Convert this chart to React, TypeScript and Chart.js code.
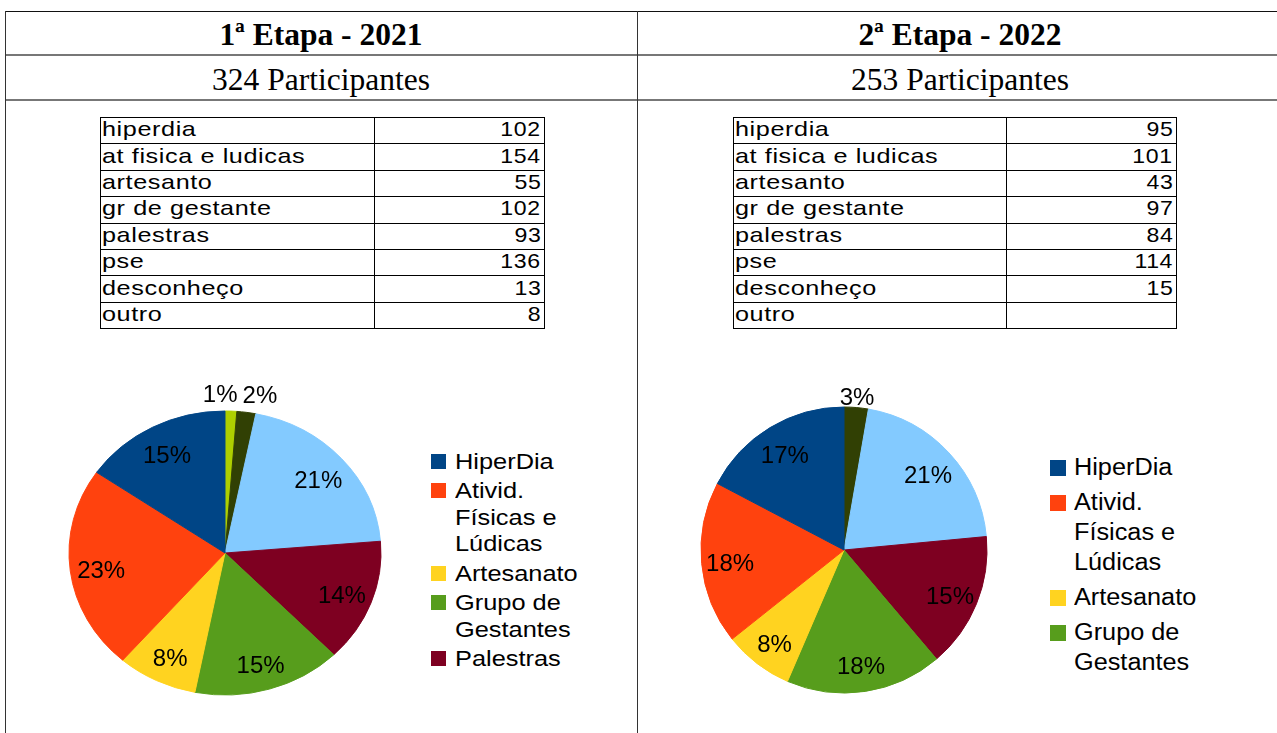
import React, { useEffect, useRef } from "react";
import { Chart, registerables } from "chart.js";

Chart.register(...registerables);

// ---------- data ----------
const stageTitles = ["1ª Etapa - 2021", "2ª Etapa - 2022"];
const participantTotals = [324, 253];
const tableCategories = [
  "hiperdia",
  "at fisica e ludicas",
  "artesanto",
  "gr de gestante",
  "palestras",
  "pse",
  "desconheço",
  "outro",
];
const values2021: (number | null)[] = [102, 154, 55, 102, 93, 136, 13, 8];
const values2022: (number | null)[] = [95, 101, 43, 97, 84, 114, 15, null];
const legendLines: string[][] = [
  ["HiperDia"],
  ["Ativid.", "Físicas e", "Lúdicas"],
  ["Artesanato"],
  ["Grupo de", "Gestantes"],
  ["Palestras"],
  ["PSE"],
  ["Desconheço"],
  ["Outro"],
];
const sliceColors = [
  "#004586",
  "#ff420e",
  "#ffd320",
  "#579d1c",
  "#7e0021",
  "#83caff",
  "#314004",
  "#aecf00",
];

const SANS = "'Liberation Sans', Arial, sans-serif";
const SERIF = "'Liberation Serif', 'Times New Roman', serif";

// ---------- plugin: elliptical pie + percent labels ----------
const pieDecor: any = {
  id: "pieDecor",
  beforeDatasetsDraw(chart: any, _a: any, opts: any) {
    const arc = chart.getDatasetMeta(0).data[0];
    const ctx = chart.ctx;
    ctx.save();
    ctx.translate(arc.x, arc.y);
    ctx.scale(1, opts.scaleY);
    ctx.translate(-arc.x, -arc.y);
  },
  afterDatasetsDraw(chart: any, _a: any, opts: any) {
    const ctx = chart.ctx;
    ctx.restore();
    const meta = chart.getDatasetMeta(0);
    const data = chart.data.datasets[0].data as number[];
    const total = data.reduce((s, v) => s + (v || 0), 0);
    ctx.save();
    ctx.font = opts.font;
    ctx.fillStyle = "#000";
    ctx.textAlign = "center";
    ctx.textBaseline = "middle";
    const items: any[] = [];
    meta.data.forEach((el: any, i: number) => {
      const v = data[i];
      if (!v) return;
      const pct = Math.round((v / total) * 100);
      const mid = (el.startAngle + el.endAngle) / 2;
      const R = el.outerRadius;
      const c = Math.cos(mid);
      const s = Math.sin(mid);
      const outside = pct < opts.minInside;
      let x: number, y: number;
      if (outside) {
        x = el.x + c * (R + opts.outsideGap);
        y = el.y + s * (R * opts.scaleY + opts.outsideGap);
      } else {
        x = el.x + c * R * opts.labelRatio;
        y = el.y + s * R * opts.labelRatio * opts.scaleY + opts.insideShiftY;
      }
      const text = pct + "%";
      items.push({ x, y, text, w: ctx.measureText(text).width, outside });
    });
    const outs = items.filter((it) => it.outside).sort((a, b) => a.x - b.x);
    for (let k = 1; k < outs.length; k++) {
      const a = outs[k - 1];
      const b = outs[k];
      const need = (a.w + b.w) / 2 + opts.labelGap;
      const d = b.x - a.x;
      if (d < need && Math.abs(a.y - b.y) < 24) {
        const sh = (need - d) / 2;
        a.x -= sh;
        b.x += sh;
      }
    }
    items.forEach((it) => ctx.fillText(it.text, it.x, it.y));
    ctx.restore();
  },
};

type PieProps = {
  values: (number | null)[];
  cx: number;
  cy: number;
  radius: number;
  scaleY: number;
  outsideGap: number;
};

function PieChart({ values, cx, cy, radius, scaleY, outsideGap }: PieProps) {
  const ref = useRef<HTMLCanvasElement>(null);
  const pad = 46;
  const S = 2 * radius + 2 * pad;
  useEffect(() => {
    const data = [...values].reverse().map((v) => (v == null ? 0 : v));
    const colors = [...sliceColors].reverse();
    const labels = legendLines.map((l) => l.join(" ")).reverse();
    const chart = new Chart(ref.current as HTMLCanvasElement, {
      type: "pie",
      data: {
        labels,
        datasets: [
          {
            data,
            backgroundColor: colors,
            borderColor: colors,
            borderWidth: 1,
            radius,
          } as any,
        ],
      },
      options: {
        animation: false,
        responsive: false,
        maintainAspectRatio: false,
        radius,
        rotation: 0,
        events: [],
        layout: { padding: 0 },
        plugins: {
          legend: { display: false },
          tooltip: { enabled: false },
          pieDecor: {
            scaleY,
            outsideGap,
            labelRatio: 0.8,
            insideShiftY: 4,
            minInside: 4,
            labelGap: 5,
            font: `24px ${SANS}`,
          },
        } as any,
      } as any,
      plugins: [pieDecor],
    });
    return () => chart.destroy();
  }, []);
  return (
    <canvas
      ref={ref}
      width={S}
      height={S}
      style={{ position: "absolute", left: cx - S / 2, top: cy - S / 2, width: S, height: S }}
    />
  );
}

type LegendProps = {
  left: number;
  top: number;
  count: number;
  fontSize: number;
  lineH: number;
  gap: number;
  square: number;
  squareTop: number;
  textGap: number;
  stretch: number;
};

function Legend(p: LegendProps) {
  return (
    <div style={{ position: "absolute", left: p.left, top: p.top, fontFamily: SANS, fontSize: p.fontSize, lineHeight: p.lineH + "px", color: "#000" }}>
      {legendLines.slice(0, p.count).map((lines, i) => (
        <div key={i} style={{ position: "relative", paddingLeft: p.square + p.textGap, marginBottom: p.gap, whiteSpace: "nowrap" }}>
          <div style={{ position: "absolute", left: 0, top: p.squareTop, width: p.square, height: p.square, background: sliceColors[i] }} />
          {lines.map((t, j) => (
            <div key={j}>
              <span style={{ display: "inline-block", transform: `scaleX(${p.stretch})`, transformOrigin: "left center" }}>{t}</span>
            </div>
          ))}
        </div>
      ))}
    </div>
  );
}

function DataTable({ left, right, divider, values }: { left: number; right: number; divider: number; values: (number | null)[] }) {
  const top = 117;
  const rowH = 26.4;
  const els: any[] = [];
  for (let i = 0; i <= tableCategories.length; i++) {
    els.push(<div key={"h" + i} style={{ position: "absolute", left, top: Math.round(top + i * rowH), width: right - left + 1, height: 1, background: "#000" }} />);
  }
  [left, divider, right].forEach((x, k) =>
    els.push(<div key={"v" + k} style={{ position: "absolute", left: x, top, width: 1, height: Math.round(tableCategories.length * rowH) + 1, background: "#000" }} />)
  );
  tableCategories.forEach((c, i) => {
    const y = top + i * rowH - 0.8;
    els.push(
      <div key={"c" + i} style={{ position: "absolute", left: left + 2, top: y, height: rowH, lineHeight: rowH + "px", fontFamily: SANS, fontSize: 21, letterSpacing: 0.5, whiteSpace: "nowrap" }}>
        <span style={{ display: "inline-block", transform: "scaleX(1.2)", transformOrigin: "left center" }}>{c}</span>
      </div>
    );
    const v = values[i];
    els.push(
      <div key={"n" + i} style={{ position: "absolute", left: divider, width: right - divider - 3, top: y, height: rowH, lineHeight: rowH + "px", fontFamily: SANS, fontSize: 21, letterSpacing: 0.5, textAlign: "right", whiteSpace: "nowrap" }}>
        <span style={{ display: "inline-block", transform: "scaleX(1.1)", transformOrigin: "right center" }}>{v == null ? "" : String(v)}</span>
      </div>
    );
  });
  return <>{els}</>;
}

export default function App() {
  const cells = [
    { left: 5, right: 637 },
    { left: 637, right: 1283 },
  ];
  return (
    <div style={{ position: "absolute", left: 0, top: 0, width: 1277, height: 733, overflow: "hidden", background: "#fff" }}>
      {/* outer grid */}
      <div style={{ position: "absolute", left: 5, top: 11, width: 1300, height: 1, background: "#111" }} />
      <div style={{ position: "absolute", left: 5, top: 54, width: 1300, height: 2, background: "#777" }} />
      <div style={{ position: "absolute", left: 5, top: 99, width: 1300, height: 2, background: "#777" }} />
      <div style={{ position: "absolute", left: 5, top: 11, width: 1, height: 730, background: "#333" }} />
      <div style={{ position: "absolute", left: 637, top: 11, width: 1, height: 730, background: "#333" }} />

      {cells.map((c, i) => (
        <React.Fragment key={i}>
          <div style={{ position: "absolute", left: c.left, width: c.right - c.left, top: 19, lineHeight: "31.5px", fontFamily: SERIF, fontSize: 31.5, fontWeight: "bold", textAlign: "center", whiteSpace: "nowrap" }}>
            {stageTitles[i]}
          </div>
          <div style={{ position: "absolute", left: c.left, width: c.right - c.left, top: 63.8, lineHeight: "31.5px", fontFamily: SERIF, fontSize: 31.5, textAlign: "center", whiteSpace: "nowrap" }}>
            {participantTotals[i] + " Participantes"}
          </div>
        </React.Fragment>
      ))}

      <DataTable left={100} right={544} divider={374} values={values2021} />
      <DataTable left={733} right={1176} divider={1006} values={values2022} />

      <PieChart values={values2021} cx={225} cy={553} radius={156} scaleY={142 / 156} outsideGap={16} />
      <PieChart values={values2022} cx={844} cy={550} radius={143} scaleY={1} outsideGap={9} />

      <Legend left={431} top={448.6} count={5} fontSize={21.5} lineH={26.5} gap={3} square={15} squareTop={5.4} textGap={9} stretch={1.18} />
      <Legend left={1050} top={453.1} count={4} fontSize={23.3} lineH={29.7} gap={5.5} square={16} squareTop={6.9} textGap={8} stretch={1.085} />
    </div>
  );
}
